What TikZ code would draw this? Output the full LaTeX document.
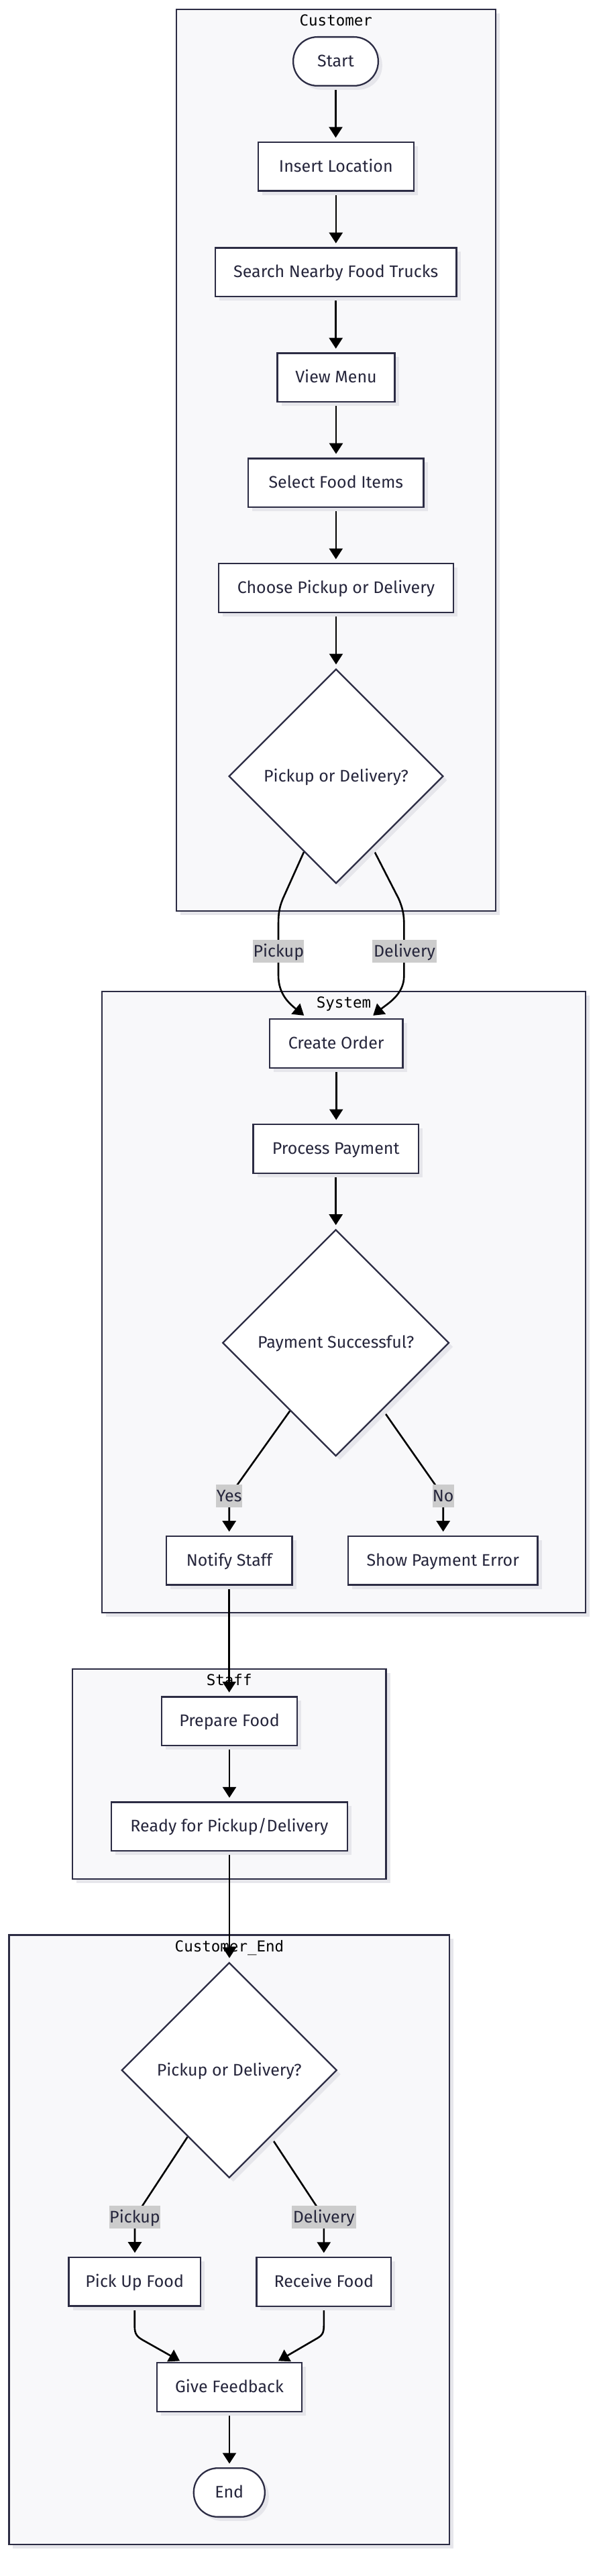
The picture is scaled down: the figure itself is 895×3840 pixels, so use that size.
\documentclass[tikz,border=0pt]{standalone}
\usepackage{fontspec}
\setmainfont{Fira Sans}
\newfontfamily\titlefont{DejaVu Sans Mono}
\usetikzlibrary{arrows.meta,shapes.geometric,shadows,calc}
\definecolor{bord}{HTML}{2C2C44}
\definecolor{txt}{HTML}{26263C}
\definecolor{clfill}{HTML}{F8F8FA}
\definecolor{shad}{HTML}{E6E6EB}
\definecolor{lblbg}{HTML}{CCCCCC}
\pgfdeclarelayer{bg}
\pgfdeclarelayer{edges}
\pgfsetlayers{bg,edges,main}
\begin{document}
\begin{tikzpicture}[x=1pt,y=-1pt,
  nodefont/.style={font=\fontsize{25}{29}\selectfont},
  shade6/.style={drop shadow={shadow xshift=6pt,shadow yshift=-6pt,fill=shad,opacity=1}},
  box/.style={rectangle,draw=bord,line width=2.3pt,fill=white,text=txt,nodefont,
    inner sep=0pt,minimum height=72.7pt,text height=21pt,text depth=5pt,shade6},
  term/.style={box,rounded corners=36pt},
  dec/.style={diamond,aspect=1,draw=bord,line width=2.3pt,fill=white,text=txt,nodefont,
    inner sep=0pt,text height=21pt,text depth=5pt,shade6},
  lbl/.style={rectangle,fill=lblbg,text=txt,nodefont,inner sep=0pt,
    minimum height=34pt,text height=21pt,text depth=5pt},
  cluster/.style={rectangle,draw=bord,line width=2.3pt,fill=clfill,inner sep=0pt,shade6},
  cltitle/.style={font=\titlefont\fontsize{22.5}{26}\selectfont,text=black,anchor=base,inner sep=0pt},
  arr/.style={draw=black,line width=2.6pt,-{Triangle[length=16pt,width=20pt]}},
  vshort/.style={shorten >=5.5pt}
]
\useasboundingbox (0,0) rectangle (895,3840);

% clusters
\begin{pgfonlayer}{bg}
\node[cluster,minimum width=476pt,minimum height=1344.3pt] (cCust) at (500.85,686) {};
\node[cltitle] (tCust) at (500.8,38.3) {Customer};
\node[cluster,minimum width=721pt,minimum height=926pt] (cSys) at (512.65,1940.85) {};
\node[cltitle] (tSys) at (512.5,1502.3) {System};
\node[cluster,minimum width=467.7pt,minimum height=313.3pt] (cStaff) at (341.7,2644.5) {};
\node[cltitle] (tStaff) at (341.7,2512.3) {Staff};
\node[cluster,minimum width=656.4pt,minimum height=908.7pt] (cEnd) at (341.65,3338.8) {};
\node[cltitle] (tEnd) at (342,2909) {Customer\_End};
\end{pgfonlayer}

% nodes
\node[term,minimum width=126.7pt] (start) at (500.5,91.5) {Start};
\node[box,minimum width=232pt] (loc) at (500.8,248.3) {Insert Location};
\node[box,minimum width=359.7pt] (search) at (500.7,405.7) {Search Nearby Food Trucks};
\node[box,minimum width=175pt] (menu) at (501,562.7) {View Menu};
\node[box,minimum width=261.4pt] (select) at (500.8,719.7) {Select Food Items};
\node[box,minimum width=350pt] (choose) at (501,876.6) {Choose Pickup or Delivery};
\node[dec,minimum width=319.7pt,minimum height=319.7pt] (d1) at (501,1157) {Pickup or Delivery?};
\node[box,minimum width=198.7pt] (co) at (501.2,1555.3) {Create Order};
\node[box,minimum width=246.4pt] (pp) at (500.7,1712.5) {Process Payment};
\node[dec,minimum width=337.7pt,minimum height=337.7pt] (d2) at (500.7,2001.7) {Payment Successful?};
\node[box,minimum width=187.7pt] (notify) at (341.7,2326.2) {Notify Staff};
\node[box,minimum width=282.7pt] (err) at (660.2,2326.2) {Show Payment Error};
\node[box,minimum width=201.7pt] (prep) at (342,2565.8) {Prepare Food};
\node[box,minimum width=351.7pt] (ready) at (342,2722.8) {Ready for Pickup/Delivery};
\node[dec,minimum width=321pt,minimum height=321pt] (d3) at (341.7,3086) {Pickup or Delivery?};
\node[box,minimum width=196.4pt] (pick) at (200.7,3401.2) {Pick Up Food};
\node[box,minimum width=200.7pt] (recv) at (482.8,3401.3) {Receive Food};
\node[box,minimum width=215.7pt] (fb) at (342,3558.3) {Give Feedback};
\node[term,minimum width=106pt] (end) at (341.8,3715.5) {End};

% edge labels
\node[lbl,minimum width=76pt] (lp1) at (415.3,1418) {Pickup};
\node[lbl,minimum width=96pt] (ld1) at (603,1418) {Delivery};
\node[lbl,minimum width=39pt] (ly) at (341.7,2230.3) {Yes};
\node[lbl,minimum width=29pt] (ln) at (660.7,2230.3) {No};
\node[lbl,minimum width=76pt] (lp2) at (201,3305.3) {Pickup};
\node[lbl,minimum width=96pt] (ld2) at (482.8,3305.3) {Delivery};

% edges
\begin{pgfonlayer}{edges}
\draw[arr,vshort] (start.south) -- (start.south |- loc.north);
\draw[arr,vshort] (loc.south) -- (loc.south |- search.north);
\draw[arr,vshort] (search.south) -- (search.south |- menu.north);
\draw[arr,vshort] (menu.south) -- (menu.south |- select.north);
\draw[arr,vshort] (select.south) -- (select.south |- choose.north);
\draw[arr,vshort] (choose.south) -- (choose.south |- d1.north);
\draw[arr] (d1.247) -- ++(-31,69) .. controls +(-6,14) and +(0,-14) .. ++(-7,38)
   -- ++(0,77) .. controls +(0,28) and +(-22,-18) .. ($(co.north)+(-48,-4)$);
\draw[arr] (d1.297) -- ++(39,76) .. controls +(6,14) and +(0,-14) .. ++(8,38)
   -- ++(0,77) .. controls +(0,28) and +(22,-18) .. ($(co.north)+(55,-4)$);
\draw[arr,vshort] (co.south) -- (co.south |- pp.north);
\draw[arr,vshort] (pp.south) -- (pp.south |- d2.north);
\draw[arr,vshort] (d2.236) -- (ly.center) -- (ly.center |- notify.north);
\draw[arr,vshort] (d2.305) -- (ln.center) -- (ln.center |- err.north);
\draw[arr,vshort] (notify.south) -- (notify.south |- prep.north);
\draw[arr,vshort] (prep.south) -- (prep.south |- ready.north);
\draw[arr,vshort] (ready.south) -- (ready.south |- d3.north);
\draw[arr,vshort] (d3.238) -- (lp2.center) -- (lp2.center |- pick.north);
\draw[arr,vshort] (d3.302) -- (ld2.center) -- (ld2.center |- recv.north);
\draw[arr] (pick.south) -- ++(0,29) .. controls +(0,12) and +(-9,-5) .. ++(13,21)
   -- ($(fb.north)+(-74,-1.5)$);
\draw[arr] (recv.south) -- ++(0,28) .. controls +(0,12) and +(9,-5) .. ++(-12,20)
   -- ($(fb.north)+(73,-1.5)$);
\draw[arr,vshort] (fb.south) -- (fb.south |- end.north);
\end{pgfonlayer}
\end{tikzpicture}
\end{document}
